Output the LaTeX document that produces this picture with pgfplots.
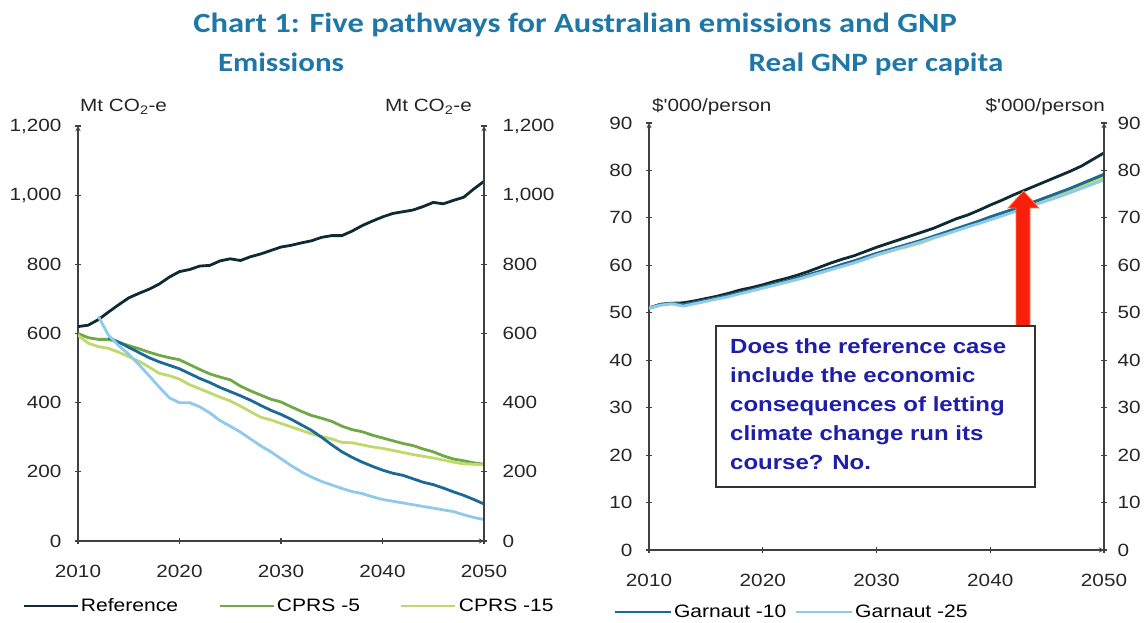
\documentclass[border=0pt]{standalone}
\usepackage{pgfplots}
\pgfplotsset{compat=1.18}
\usepackage{fontspec}
\setmainfont{Liberation Sans}
\newfontfamily\arialw[FakeStretch=1.17]{Liberation Sans}
\newfontfamily\titlefam[FakeStretch=1.17]{Carlito}
\definecolor{refc}{HTML}{0E2B33}
\definecolor{cprsa}{HTML}{6FA845}
\definecolor{cprsb}{HTML}{BFD96A}
\definecolor{garna}{HTML}{1B6A96}
\definecolor{garnb}{HTML}{8FC9EC}
\definecolor{titleblue}{HTML}{1F77A6}
\definecolor{annoblue}{HTML}{1E1EAA}
\definecolor{axisgray}{HTML}{404040}
\definecolor{arrowred}{HTML}{F8200C}
\definecolor{arrowedge}{HTML}{FF7A40}
\newcommand\tickfont{\arialw\fontsize{17.7pt}{20pt}\selectfont}
\newcommand\legfont{\arialw\fontsize{18pt}{20pt}\selectfont}
\newcommand\annofont{\arialw\bfseries\fontsize{20.5pt}{29pt}\selectfont}
\newcommand\ttlfont{\titlefam\bfseries\fontsize{27.8pt}{32pt}\selectfont}
\newcommand\subfont{\titlefam\bfseries\fontsize{26.5pt}{30pt}\selectfont}

\pgfplotstableread{
year ref cprsa cprsb
2010 620 600 595
2011 624 588 572
2012 640 583 562
2013 662 583 557
2014 683 575 546
2015 703 565 533
2016 716 556 520
2017 728 546 503
2018 743 537 485
2019 763 530 478
2020 779 524 468
2021 785 510 452
2022 795 496 440
2023 797 483 428
2024 810 474 416
2025 816 466 405
2026 811 448 390
2027 822 434 374
2028 830 422 358
2029 840 410 350
2030 850 402 340
2031 855 388 330
2032 862 375 320
2033 868 363 310
2034 878 355 302
2035 883 346 295
2036 883 332 285
2037 896 322 284
2038 912 316 278
2039 925 306 272
2040 937 298 268
2041 947 290 262
2042 952 282 256
2043 957 276 250
2044 967 266 245
2045 979 258 240
2046 975 246 234
2047 985 237 228
2048 994 232 223
2049 1018 226 222
2050 1040 222 220
}\emisA

\pgfplotstableread{
year garna
2013 588
2014 575
2015 560
2016 545
2017 530
2018 518
2019 508
2020 498
2021 484
2022 470
2023 458
2024 444
2025 432
2026 420
2027 407
2028 392
2029 378
2030 366
2031 352
2032 336
2033 320
2034 300
2035 278
2036 258
2037 242
2038 228
2039 216
2040 205
2041 196
2042 190
2043 180
2044 170
2045 163
2046 153
2047 142
2048 132
2049 120
2050 107
}\emisG

\pgfplotstableread{
year garnb
2012 650
2013 595
2014 565
2015 540
2016 510
2017 478
2018 445
2019 414
2020 400
2021 400
2022 388
2023 370
2024 348
2025 332
2026 315
2027 295
2028 275
2029 258
2030 238
2031 218
2032 200
2033 185
2034 172
2035 162
2036 152
2037 143
2038 137
2039 128
2040 120
2041 115
2042 110
2043 105
2044 100
2045 95
2046 90
2047 85
2048 76
2049 68
2050 62
}\emisH

\pgfplotstableread{
year ref cprsa cprsb garna garnb
2010 51.0 51.0 50.9 51.0 51.0
2011 51.8 51.7 51.6 51.7 51.6
2012 52.0 52.0 51.9 52.0 51.9
2013 52.1 51.7 51.6 51.7 51.4
2014 52.5 52.1 52.0 52.1 51.9
2015 53.0 52.6 52.5 52.6 52.4
2016 53.5 53.1 53.0 53.1 52.9
2017 54.1 53.6 53.5 53.6 53.4
2018 54.8 54.2 54.1 54.2 54.0
2019 55.3 54.8 54.6 54.8 54.6
2020 55.9 55.4 55.2 55.4 55.2
2021 56.6 56.0 55.8 56.0 55.8
2022 57.2 56.6 56.4 56.6 56.4
2023 57.9 57.3 57.0 57.3 57.0
2024 58.7 58.0 57.7 58.0 57.7
2025 59.6 58.7 58.4 58.7 58.4
2026 60.5 59.4 59.1 59.4 59.1
2027 61.3 60.2 59.8 60.2 59.8
2028 62.0 60.9 60.5 60.9 60.5
2029 62.9 61.7 61.3 61.7 61.3
2030 63.8 62.5 62.1 62.5 62.2
2031 64.6 63.2 62.8 63.2 62.9
2032 65.4 63.9 63.5 63.9 63.6
2033 66.2 64.6 64.1 64.6 64.3
2034 67.0 65.3 64.8 65.3 65.0
2035 67.8 66.1 65.7 66.1 65.8
2036 68.8 66.9 66.5 66.9 66.5
2037 69.8 67.7 67.3 67.7 67.3
2038 70.6 68.5 68.1 68.5 68.1
2039 71.6 69.3 68.9 69.3 68.8
2040 72.7 70.2 69.7 70.2 69.6
2041 73.7 71.0 70.5 71.0 70.4
2042 74.8 71.8 71.3 71.8 71.2
2043 75.8 72.7 72.2 72.7 72.0
2044 76.8 73.5 73.0 73.5 72.8
2045 77.8 74.4 73.9 74.4 73.6
2046 78.8 75.2 74.7 75.3 74.4
2047 79.8 76.1 75.6 76.2 75.3
2048 80.9 77.0 76.5 77.2 76.2
2049 82.3 78.0 77.5 78.2 77.1
2050 83.7 79.0 78.4 79.2 78.0
}\gnp

\pgfplotsset{
  base/.style={
    scale only axis, anchor=south west,
    xmin=2010, xmax=2050,
    axis line style={-, draw=axisgray, line width=1.3pt},
    tick align=inside, major tick length=6pt,
    tick style={draw=axisgray, line width=1.1pt},
    tick label style={font=\tickfont, text=black!85},
    /pgf/number format/assume math mode=true,
    xtick={2010,2020,...,2050},
    xticklabel style={/pgf/number format/1000 sep={}, yshift=-17.7pt},
  },
  leftpanel/.style={base, at={(78pt,82pt)}, width=406pt, height=415pt, ymin=0, ymax=1200,
    ytick={0,200,...,1200},
    yticklabel style={/pgf/number format/1000 sep={,}}},
  rightpanel/.style={base, at={(649pt,73pt)}, width=455pt, height=427pt, ymin=0, ymax=90,
    ytick={0,10,...,90}},
  ser/.style={line width=2.8pt, line join=round},
}

\begin{document}
\begin{tikzpicture}[x=1pt,y=1pt]
\path[use as bounding box] (0,0) rectangle (1146,623);

% ---------- Emissions ----------
\begin{axis}[leftpanel,
  axis x line=bottom, axis y line=left,
  yticklabel style={xshift=-10pt},
  legend style={draw=none, fill=none, at={(-0.138,-0.1566)}, anchor=west,
    legend columns=3, font=\legfont, inner sep=0pt,
    /tikz/every even column/.append style={column sep=38pt}},
  legend cell align=left,
  legend image code/.code={\draw[#1] (0pt,0pt) -- (54pt,0pt);},
]
\addplot[ser, refc] table[x=year, y=ref] {\emisA};
\addlegendentry{Reference}
\addplot[ser, cprsa] table[x=year, y=cprsa] {\emisA};
\addlegendentry{CPRS -5}
\addplot[ser, cprsb] table[x=year, y=cprsb] {\emisA};
\addlegendentry{CPRS -15}
\addplot[ser, garna, forget plot] table[x=year, y=garna] {\emisG};
\addplot[ser, garnb, forget plot] table[x=year, y=garnb] {\emisH};
\end{axis}
\begin{axis}[leftpanel, axis x line=none, axis y line=right,
  yticklabel style={xshift=12pt}]
\end{axis}

% ---------- GNP ----------
\begin{axis}[rightpanel,
  axis x line=bottom, axis y line=left,
  yticklabel style={xshift=-10pt},
  legend style={draw=none, fill=none, at={(-0.079,-0.145)}, anchor=west,
    legend columns=2, font=\legfont, inner sep=0pt,
    /tikz/every even column/.append style={column sep=6pt}},
  legend cell align=left,
  legend image code/.code={\draw[#1] (0pt,0pt) -- (56pt,0pt);},
]
\addplot[ser, refc, forget plot] table[x=year, y=ref] {\gnp};
\addplot[ser, cprsa, forget plot] table[x=year, y=cprsa] {\gnp};
\addplot[ser, cprsb, forget plot] table[x=year, y=cprsb] {\gnp};
\addplot[ser, garna] table[x=year, y=garna] {\gnp};
\addlegendentry{Garnaut -10}
\addplot[ser, garnb] table[x=year, y=garnb] {\gnp};
\addlegendentry{Garnaut -25}
\end{axis}
\begin{axis}[rightpanel, axis x line=none, axis y line=right,
  yticklabel style={xshift=7pt}]
\end{axis}

% ---------- units ----------
\node[font=\tickfont, text=black!85, anchor=base west, inner sep=0pt] at (80,511) {Mt CO\textsubscript{2}-e};
\node[font=\tickfont, text=black!85, anchor=base east, inner sep=0pt] at (472,511) {Mt CO\textsubscript{2}-e};
\node[font=\tickfont, text=black!85, anchor=base west, inner sep=0pt] at (652,511) {\$'000/person};
\node[font=\tickfont, text=black!85, anchor=base east, inner sep=0pt] at (1105,511) {\$'000/person};

% ---------- titles ----------
\node[font=\ttlfont, text=titleblue, anchor=base, inner sep=0pt] at (575,590) {Chart 1: Five pathways for Australian emissions and GNP};
\node[font=\subfont, text=titleblue, anchor=base, inner sep=0pt] at (281,551) {Emissions};
\node[font=\subfont, text=titleblue, anchor=base, inner sep=0pt] at (876,551) {Real GNP per capita};

% ---------- annotation ----------
\filldraw[fill=arrowred, draw=arrowedge, line width=0.8pt]
  (1016,297) -- (1016,415) -- (1008,415) -- (1023.5,432) -- (1039,415) -- (1030,415) -- (1030,297) -- cycle;
\filldraw[fill=white, draw=black!80, line width=1.2pt] (716,297) rectangle (1035,136);
\begin{scope}[every node/.style={font=\annofont, text=annoblue, anchor=base west, inner sep=0pt}]
\node at (730,269) {Does the reference case};
\node at (730,240) {include the economic};
\node at (730,211) {consequences of letting};
\node at (730,182) {climate change run its};
\node at (730,153) {course? No.};
\end{scope}
\end{tikzpicture}
\end{document}
